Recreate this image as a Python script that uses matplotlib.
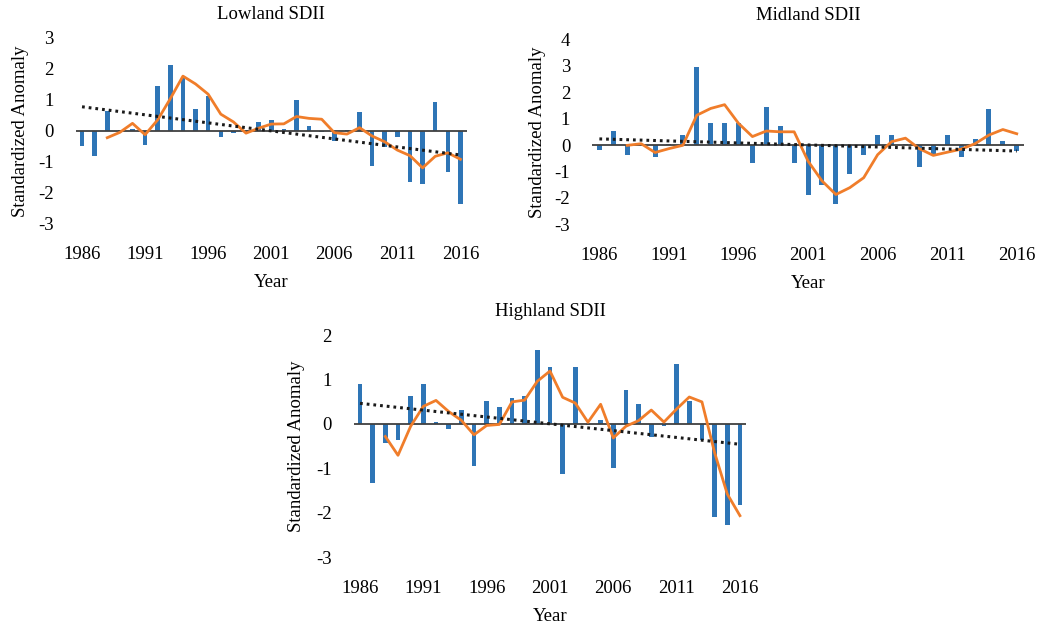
import matplotlib
matplotlib.use("Agg")
import matplotlib.pyplot as plt
import numpy as np
import pandas as pd

plt.rcParams['font.family'] = ['Liberation Serif', 'DejaVu Serif']
plt.rcParams['axes.unicode_minus'] = False

# Standardized SDII anomalies, 1986-2016
years = np.arange(1986, 2017)

lowland = [-0.50, -0.80, 0.65, 0.02, 0.07, -0.45, 1.46, 2.12, 1.73, 0.70,
           1.13, -0.20, -0.05, 0.04, 0.28, 0.35, 0.06, 0.99, 0.17, -0.02,
           -0.31, 0.03, 0.60, -1.12, -0.53, -0.20, -1.66, -1.71, 0.92, -1.32,
           -2.34]

midland = [-0.18, 0.53, -0.39, 0.01, -0.47, 0.05, 0.39, 2.94, 0.82, 0.82,
           0.82, -0.68, 1.45, 0.73, -0.68, -1.88, -1.51, -2.23, -1.10, -0.38,
           0.38, 0.38, 0.02, -0.82, -0.38, 0.38, -0.47, 0.24, 1.36, 0.16,
           -0.24]

highland = [0.91, -1.32, -0.43, -0.36, 0.64, 0.91, 0.04, -0.11, 0.32, -0.94,
            0.52, 0.39, 0.58, 0.64, 1.66, 1.27, -1.13, 1.27, -0.02, 0.08,
            -1.00, 0.77, 0.46, -0.29, -0.04, 1.34, 0.52, -0.37, -2.08, -2.27,
            -1.83]

xticks = [1986, 1991, 1996, 2001, 2006, 2011, 2016]

bar_color = '#2E75B6'
ma_color = '#F07D2A'
fs = 13.5

fig = plt.figure(figsize=(10.43, 6.29), dpi=100)


def panel(rect, values, title, ymin, ymax):
    ax = fig.add_axes(rect)
    vals = np.array(values)
    ax.bar(years, vals, width=0.36, color=bar_color, zorder=2)
    # 3-year moving average
    ma = pd.Series(vals).rolling(3).mean()
    ax.plot(years, ma, color=ma_color, lw=2.0, zorder=4)
    # linear trend
    k, b = np.polyfit(years, vals, 1)
    ax.plot(years, k * years + b, color='#1a1a1a', lw=2.2,
            linestyle=(0, (0.9, 1.3)), zorder=5)
    ax.axhline(0, color='#404040', lw=1.3, zorder=3)
    ax.set_xlim(1985.5, 2016.5)
    ax.set_ylim(ymin, ymax)
    ax.set_xticks(xticks)
    ax.set_xticklabels([str(x) for x in xticks])
    ax.set_yticks(range(ymin, ymax + 1))
    ax.tick_params(length=0, labelsize=fs)
    ax.tick_params(axis='x', pad=16)
    ax.tick_params(axis='y', pad=16)
    for s in ax.spines.values():
        s.set_visible(False)
    ax.set_title(title, fontsize=fs, pad=14)
    ax.set_xlabel('Year', fontsize=fs, labelpad=8)
    return ax


ax1 = panel([0.0726, 0.6439, 0.3749, 0.2957], lowland, 'Lowland SDII', -3, 3)
ax1.text(-0.142, 0.5, 'Standardized Anomaly', transform=ax1.transAxes,
         rotation=90, ha='center', va='center', fontsize=fs)

ax2 = panel([0.568, 0.6434, 0.4135, 0.2941], midland, 'Midland SDII', -3, 4)
ax2.text(-0.128, 0.5, 'Standardized Anomaly', transform=ax2.transAxes,
         rotation=90, ha='center', va='center', fontsize=fs)

ax3 = panel([0.3391, 0.1137, 0.3764, 0.3537], highland, 'Highland SDII', -3, 2)
ax3.text(-0.145, 0.5, 'Standardized Anomaly', transform=ax3.transAxes,
         rotation=90, ha='center', va='center', fontsize=fs)

fig.savefig('out.png', dpi=100)
